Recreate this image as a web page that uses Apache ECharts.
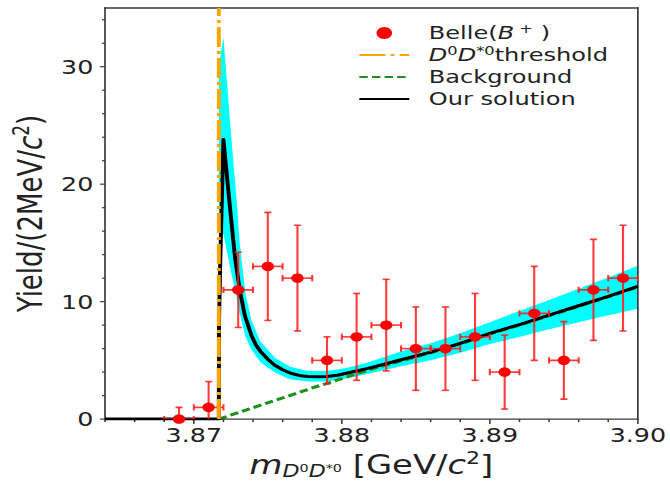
<!DOCTYPE html>
<html><head><meta charset="utf-8">
<script src="https://cdn.jsdelivr.net/npm/echarts@6/dist/echarts.min.js"></script>
<style>
html,body{margin:0;padding:0;background:#fff;overflow:hidden}
#wrap{width:670px;height:485px;overflow:hidden;background:#fff}
#c{width:515px;height:485px;transform:scaleX(1.30097);transform-origin:0 0}
</style>
</head><body><div id="wrap"><div id="c"></div></div>
<script>
// ---- data ----
const binCenters = [3.869, 3.871, 3.873, 3.875, 3.877, 3.879, 3.881, 3.883, 3.885, 3.887, 3.889, 3.891, 3.893, 3.895, 3.897, 3.899];
const counts     = [0, 1, 11, 13, 12, 5, 7, 8, 6, 6, 7, 4, 9, 5, 11, 12];
const errLow     = [1.0, 2.2, 3.2, 4.6, 4.5, 2.0, 3.7, 3.9, 3.55, 3.55, 3.7, 3.15, 4.0, 3.3, 4.3, 4.5];
const errHigh    = [1.0, 2.2, 3.2, 4.6, 4.5, 2.0, 3.7, 3.9, 3.55, 3.55, 3.7, 3.15, 4.0, 3.3, 4.3, 4.5];
const binHalfWidth = 0.001;
const threshold = 3.87169;
const thresholdSpan = [0, 35];

const solX = [3.864, 3.87169, 3.8717, 3.87178, 3.8720, 3.8725, 3.87278, 3.8731, 3.87345, 3.8739, 3.8742, 3.87455, 3.8750, 3.87545, 3.8760, 3.87655, 3.8771, 3.8777, 3.8784, 3.8790, 3.8797, 3.8803, 3.8810, 3.8817, 3.8828, 3.8840, 3.8860, 3.8880, 3.8900, 3.8920, 3.8940, 3.8960, 3.8980, 3.9000];
const solY = [0, 0, 8, 13, 23.8, 17.3, 13.8, 11.0, 8.8, 7.1, 6.3, 5.7, 5.1, 4.6, 4.2, 3.9, 3.72, 3.63, 3.6, 3.63, 3.73, 3.9, 4.1, 4.3, 4.65, 5.05, 5.7, 6.45, 7.3, 8.05, 8.85, 9.65, 10.45, 11.3];

const bgX = [3.87169, 3.874, 3.876, 3.878, 3.880, 3.882, 3.884, 3.886, 3.888, 3.890, 3.892, 3.894, 3.896, 3.898, 3.900];
const bgY = [0, 0.97, 1.8, 2.65, 3.45, 4.25, 4.95, 5.65, 6.4, 7.25, 8.0, 8.8, 9.6, 10.4, 11.25];

const bandX     = [3.87169, 3.8720, 3.8725, 3.8729, 3.8731, 3.8735, 3.8739, 3.8745, 3.8755, 3.8765, 3.8777, 3.8790, 3.8803, 3.8817, 3.8840, 3.8860, 3.8880, 3.8900, 3.8920, 3.8940, 3.8960, 3.8980, 3.9000];
const bandUpper = [30, 32.5, 24.5, 18.5, 15.0, 10.6, 8.4, 6.6, 5.2, 4.45, 4.1, 4.1, 4.35, 4.8, 5.75, 6.45, 7.3, 8.25, 9.2, 10.15, 11.1, 12.05, 13.05];
const bandLower = [14, 15.8, 12.6, 10.3, 9.0, 7.0, 5.9, 4.85, 3.95, 3.4, 3.2, 3.2, 3.45, 3.85, 4.5, 5.0, 5.65, 6.4, 7.0, 7.65, 8.25, 8.85, 9.4];

const xMajorTicks = [3.87, 3.88, 3.89, 3.90];
const xAllTicks = [3.864, 3.866, 3.868, 3.870, 3.872, 3.874, 3.876, 3.878, 3.880, 3.882, 3.884, 3.886, 3.888, 3.890, 3.892, 3.894, 3.896, 3.898, 3.900];
const yMajorTicks = [0, 10, 20, 30];
const yAllTicks = [0, 2, 4, 6, 8, 10, 12, 14, 16, 18, 20, 22, 24, 26, 28, 30, 32, 34];
const xRange = [3.864, 3.90];
const yRange = [0, 35];

const names = {belle: 'Belle(B+)', thr: 'D0D*0threshold', bg: 'Background', sol: 'Our solution'};

// ---- chart ----
const FONT = 'DejaVu Sans';
const TXT = '#222';
const AX = '#3a3a3a';
const chart = echarts.init(document.getElementById('c'), null, {renderer: 'svg'});

const legendRich = {
  p: {width: 10, fontSize: 18.5, fontFamily: FONT, lineHeight: 22},
  n: {fontSize: 18.5, fontFamily: FONT, color: TXT, lineHeight: 22},
  i: {fontSize: 18.5, fontFamily: FONT, fontStyle: 'italic', color: TXT, lineHeight: 22},
  sup: {fontSize: 12.5, fontFamily: FONT, color: TXT, lineHeight: 12, verticalAlign: 'top'}
};
const legendText = {};
legendText[names.belle] = '{p| }{n|Belle(}{i|B}{sup| +}{n| )}';
legendText[names.thr] = '{p| }{i|D}{sup|0}{i|D}{sup|*0}{n|threshold}';
legendText[names.bg] = '{p| }{n|Background}';
legendText[names.sol] = '{p| }{n|Our solution}';
const hiddenSym = {opacity: 0, color: 'rgba(0,0,0,0)', borderWidth: 0};

const isMajor = (list, v) => list.some(m => Math.abs(m - v) < 1e-9);

const option = {
  animation: false,
  grid: {left: 76.9, right: 23.1, top: 8, bottom: 60},
  legend: {
    left: 275.2, top: 22, orient: 'vertical', padding: 0, itemGap: 0,
    itemWidth: 38.4, itemHeight: 12,
    data: [
      {name: names.belle, icon: 'circle'},
      {name: names.thr, itemStyle: hiddenSym},
      {name: names.bg, itemStyle: hiddenSym},
      {name: names.sol, itemStyle: hiddenSym}
    ],
    formatter: n => legendText[n],
    textStyle: {fontFamily: FONT, fontSize: 18.5, color: TXT, lineHeight: 22, rich: legendRich}
  },
  xAxis: [{
    type: 'value', min: xRange[0], max: xRange[1], position: 'bottom',
    axisLine: {show: false, onZero: false}, splitLine: {show: false}, axisTick: {show: false},
    axisLabel: {customValues: xMajorTicks, formatter: v => v.toFixed(2), fontFamily: FONT, fontSize: 19.5, color: TXT, margin: 6},
    name: '{m|m}{sd|D}{ss|0}{sd|D}{ss|*0}{n| [GeV/}{ci|c}{sup|2}{n|]}',
    nameLocation: 'middle', nameGap: 26,
    nameTextStyle: {fontFamily: FONT, color: TXT, rich: {
      m: {fontSize: 26, fontStyle: 'italic', fontFamily: FONT, color: TXT, lineHeight: 30},
      n: {fontSize: 26, fontFamily: FONT, color: TXT, lineHeight: 30},
      ci: {fontSize: 26, fontStyle: 'italic', fontFamily: FONT, color: TXT, lineHeight: 30},
      sd: {fontSize: 17, fontStyle: 'italic', fontFamily: FONT, color: TXT, lineHeight: 12, verticalAlign: 'bottom'},
      ss: {fontSize: 11, fontFamily: FONT, color: TXT, lineHeight: 11, verticalAlign: 'bottom', padding: [0, 0, 6, 0]},
      sup: {fontSize: 17, fontFamily: FONT, color: TXT, lineHeight: 17, verticalAlign: 'top'}
    }}
  }],
  yAxis: [{
    type: 'value', min: yRange[0], max: yRange[1], position: 'left',
    axisLine: {show: false, onZero: false}, splitLine: {show: false}, axisTick: {show: false},
    axisLabel: {customValues: yMajorTicks, fontFamily: FONT, fontSize: 19.5, color: TXT, margin: 9},
    name: '{n|Yield/(2MeV/}{ci|c}{sup|2}{n|)}',
    nameLocation: 'middle', nameGap: 40,
    nameTextStyle: {fontFamily: FONT, color: TXT, rich: {
      n: {fontSize: 26, fontFamily: FONT, color: TXT, lineHeight: 30},
      ci: {fontSize: 26, fontStyle: 'italic', fontFamily: FONT, color: TXT, lineHeight: 30},
      sup: {fontSize: 17, fontFamily: FONT, color: TXT, lineHeight: 17, verticalAlign: 'top'}
    }}
  }],
  series: [
    {
      type: 'custom', name: 'band', clip: true, z: 1, silent: true,
      data: [[bandX[0], bandLower[0]]],
      renderItem: (params, api) => {
        const pts = [];
        for (let i = 0; i < bandX.length; i++) pts.push(api.coord([bandX[i], bandUpper[i]]));
        for (let i = bandX.length - 1; i >= 0; i--) pts.push(api.coord([bandX[i], bandLower[i]]));
        return {type: 'polygon', shape: {points: pts}, style: {fill: '#00ffff'}};
      }
    },
    {
      type: 'line', name: names.bg, z: 2, showSymbol: false,
      data: bgX.map((x, i) => [x, bgY[i]]),
      lineStyle: {color: '#1f8f1f', width: 3, type: [6.5, 3.2]},
      itemStyle: {color: '#1f8f1f'}
    },
    {
      // axes frame and ticks, placed through the axis scales
      type: 'custom', name: 'frame', clip: false, z: 3, silent: true,
      data: [[xRange[0], yRange[0]]],
      renderItem: (params, api) => {
        const bl = api.coord([xRange[0], yRange[0]]);
        const tr = api.coord([xRange[1], yRange[1]]);
        const st = {stroke: AX, lineWidth: 1.3, lineCap: 'square'};
        const stT = {stroke: AX, lineWidth: 1.2};
        const ln = (x1, y1, x2, y2, s) => ({type: 'line', shape: {x1, y1, x2, y2}, style: s});
        const kids = [
          ln(bl[0], bl[1], tr[0], bl[1], st),
          ln(bl[0], tr[1], tr[0], tr[1], st),
          ln(bl[0], bl[1], bl[0], tr[1], st),
          ln(tr[0], bl[1], tr[0], tr[1], st)
        ];
        xAllTicks.forEach(v => {
          const p = api.coord([v, yRange[0]]);
          kids.push(ln(p[0], p[1], p[0], p[1] + (isMajor(xMajorTicks, v) ? 5 : 3), stT));
        });
        yAllTicks.forEach(v => {
          const p = api.coord([xRange[0], v]);
          kids.push(ln(p[0], p[1], p[0] - (isMajor(yMajorTicks, v) ? 3.8 : 2.3), p[1], stT));
        });
        return {type: 'group', children: kids};
      }
    },
    {
      type: 'line', name: names.sol, z: 4, showSymbol: false,
      data: solX.map((x, i) => [x, solY[i]]),
      lineStyle: {color: '#000', width: 3, join: 'round'},
      itemStyle: {color: '#000'}
    },
    {
      type: 'custom', name: 'errors', clip: true, z: 5, silent: true,
      data: binCenters.map((x, i) => [x, counts[i], errLow[i], errHigh[i]]),
      encode: {x: 0, y: 1},
      renderItem: (params, api) => {
        const x = api.value(0), y = api.value(1), lo = api.value(2), hi = api.value(3);
        const pT = api.coord([x, y + hi]), pB = api.coord([x, y - lo]);
        const pL = api.coord([x - binHalfWidth, y]), pR = api.coord([x + binHalfWidth, y]);
        const cw = 2.7, ch = 3.2;
        const st = {stroke: 'rgba(255,25,25,0.85)', lineWidth: 1.6};
        const ln = (x1, y1, x2, y2) => ({type: 'line', shape: {x1, y1, x2, y2}, style: st});
        return {type: 'group', children: [
          ln(pT[0], pT[1], pB[0], pB[1]),
          ln(pL[0], pL[1], pR[0], pR[1]),
          ln(pT[0] - cw, pT[1], pT[0] + cw, pT[1]),
          ln(pB[0] - cw, pB[1], pB[0] + cw, pB[1]),
          ln(pL[0], pL[1] - ch, pL[0], pL[1] + ch),
          ln(pR[0], pR[1] - ch, pR[0], pR[1] + ch)
        ]};
      }
    },
    {
      type: 'scatter', name: names.belle, z: 6, symbol: 'circle', symbolSize: 9.5,
      data: binCenters.map((x, i) => [x, counts[i]]),
      itemStyle: {color: '#ff0000', opacity: 1}
    },
    {
      type: 'line', name: names.thr, z: 7, showSymbol: false,
      data: thresholdSpan.map(v => [threshold, v]),
      lineStyle: {color: '#ffa500', width: 3, type: [20, 4, 3, 4]},
      itemStyle: {color: '#ffa500'}
    }
  ]
};
chart.setOption(option);
</script>
</body></html>
